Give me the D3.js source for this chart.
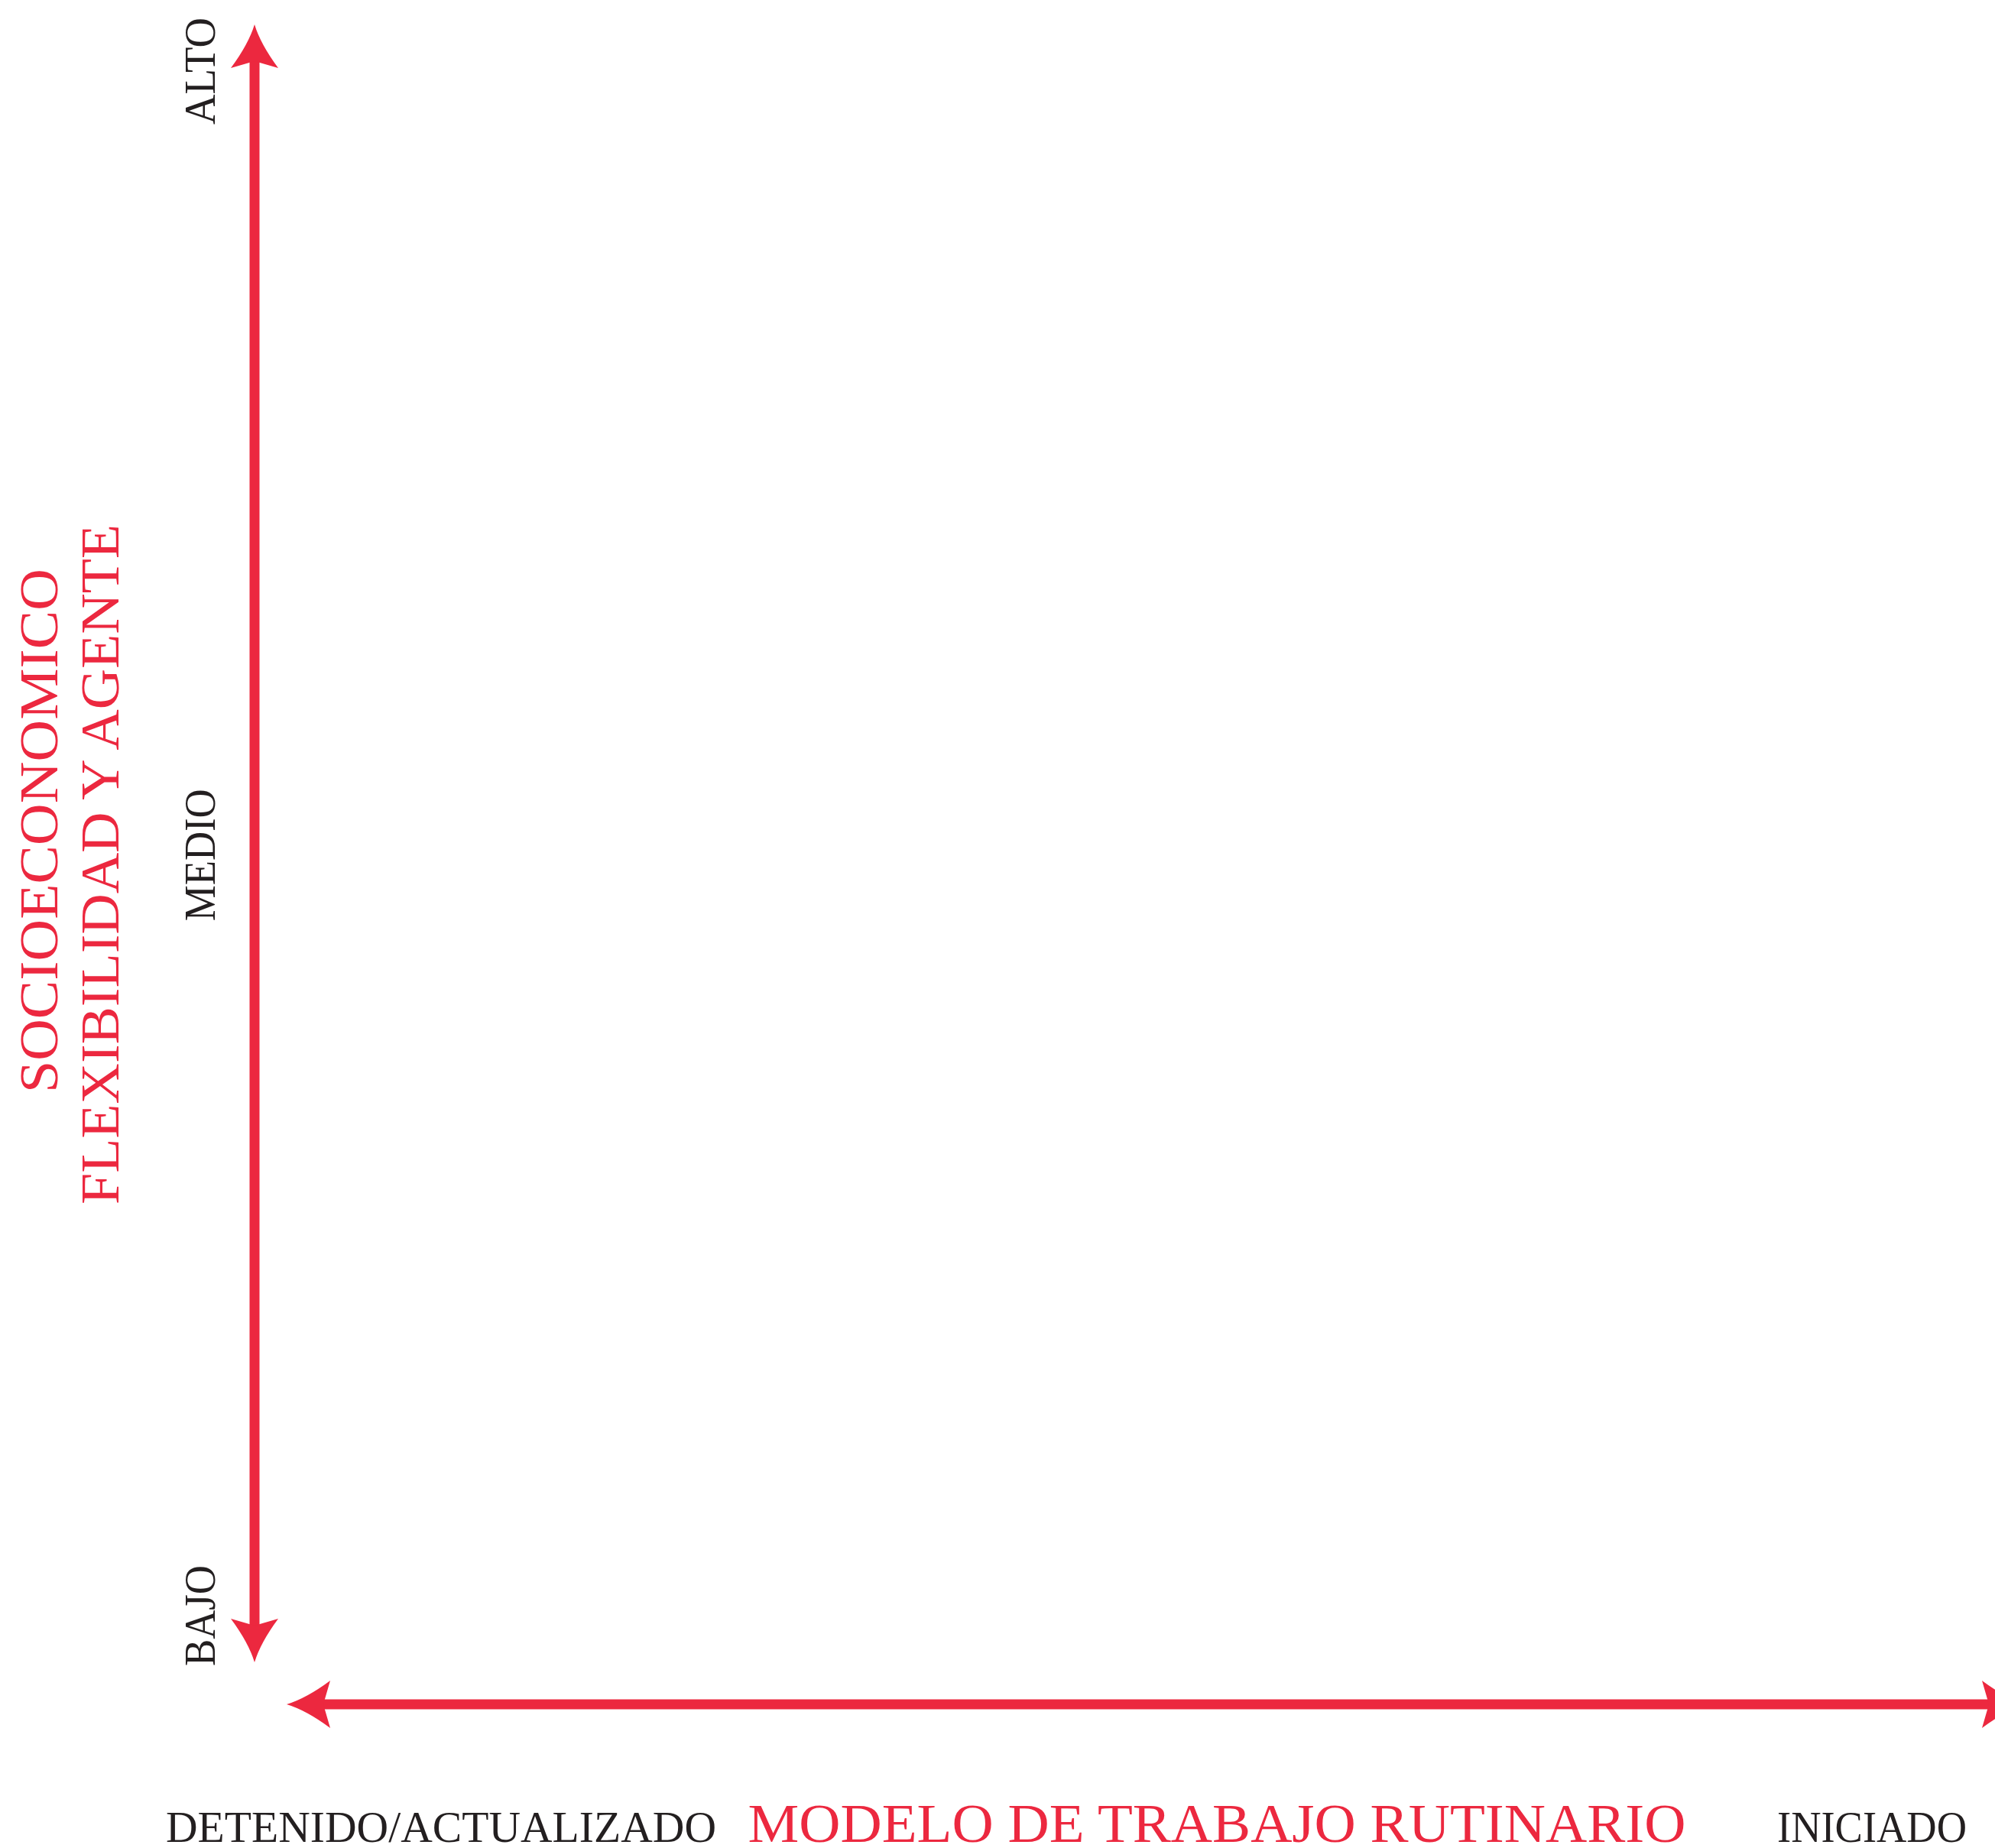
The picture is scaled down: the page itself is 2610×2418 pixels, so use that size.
<!DOCTYPE html>
<html>
<head>
<meta charset="utf-8">
<script src="https://cdn.jsdelivr.net/npm/d3@7"></script>
<style>
  body { margin: 0; background: #fff; }
  text { font-family: "Liberation Serif", "Times New Roman", serif; }
</style>
</head>
<body>
<script>
var width = 2610;
var height = 2418;
var red = "#ec283f";
var ink = "#231f20";

// axis levels and titles
var yLevels = ["BAJO", "MEDIO", "ALTO"];
var yLevelPos = [0, 0.492, 1];
var yAnchors = ["start", "middle", "end"];
var yLabelLengths = [132, 173, 140];
var xLevels = ["DETENIDO/ACTUALIZADO", "INICIADO"];
var xAnchors = ["start", "end"];
var xLabelLengths = [720, 248];
var yTitles = ["SOCIOECONOMICO", "FLEXIBILIDAD Y AGENTE"];
var yTitleLengths = [686, 890];
var xTitle = "MODELO DE TRABAJO RUTINARIO";
var xTitleLength = 1227;

var svg = d3.select("body").append("svg")
  .attr("width", width)
  .attr("height", height);

var axisX = 333;
var axisY = 2230;

var y = d3.scaleLinear().domain([0, 1]).range([2180, 23]);
var x = d3.scalePoint().domain(xLevels).range([217, 2573]);

// arrow head with bowed sides, tip at origin pointing right
function head(len, half, notch) {
  return "M0,0 Q" + (-len*0.45) + "," + (half*0.25) + " " + (-len) + "," + half +
    " L" + (-len+notch) + ",0 L" + (-len) + "," + (-half) +
    " Q" + (-len*0.45) + "," + (-half*0.25) + " 0,0 Z";
}

function arrow(x1, y1, x2, y2) {
  var g = svg.append("g");
  var ang = Math.atan2(y2 - y1, x2 - x1) * 180 / Math.PI;
  var d = Math.hypot(x2 - x1, y2 - y1);
  var ux = (x2 - x1) / d, uy = (y2 - y1) / d;
  g.append("line")
    .attr("x1", x1 + ux*40)
    .attr("y1", y1 + uy*40)
    .attr("x2", x2 - ux*40)
    .attr("y2", y2 - uy*40)
    .attr("stroke", red)
    .attr("stroke-width", 13);
  g.append("path")
    .attr("d", head(57, 31, 9))
    .attr("fill", red)
    .attr("transform", "translate(" + x2 + "," + y2 + ") rotate(" + ang + ")");
  g.append("path")
    .attr("d", head(57, 31, 9))
    .attr("fill", red)
    .attr("transform", "translate(" + x1 + "," + y1 + ") rotate(" + (ang + 180) + ")");
}

arrow(axisX, 2175, axisX, 32);
arrow(375, axisY, 2650, axisY);

// y level labels
svg.selectAll(".ylev")
  .data(yLevels)
  .enter().append("text")
  .attr("class", "ylev")
  .attr("transform", function(d, i){ return "translate(281," + y(yLevelPos[i]) + ") rotate(-90)"; })
  .attr("text-anchor", function(d, i){ return yAnchors[i]; })
  .attr("textLength", function(d, i){ return yLabelLengths[i]; })
  .attr("lengthAdjust", "spacingAndGlyphs")
  .attr("font-size", 56)
  .attr("fill", ink)
  .text(function(d){ return d; });

// y titles
var titleX = [75, 155];
svg.selectAll(".ytitle")
  .data(yTitles)
  .enter().append("text")
  .attr("class", "ytitle")
  .attr("transform", function(d, i){ return "translate(" + titleX[i] + "," + (i ? 1131 : 1087) + ") rotate(-90)"; })
  .attr("text-anchor", "middle")
  .attr("textLength", function(d, i){ return yTitleLengths[i]; })
  .attr("lengthAdjust", "spacingAndGlyphs")
  .attr("font-size", 72)
  .attr("fill", red)
  .text(function(d){ return d; });

// x level labels
svg.selectAll(".xlev")
  .data(xLevels)
  .enter().append("text")
  .attr("class", "xlev")
  .attr("x", function(d){ return x(d); })
  .attr("y", 2410)
  .attr("text-anchor", function(d, i){ return xAnchors[i]; })
  .attr("textLength", function(d, i){ return xLabelLengths[i]; })
  .attr("lengthAdjust", "spacingAndGlyphs")
  .attr("font-size", 56)
  .attr("fill", ink)
  .text(function(d){ return d; });

// x title
svg.append("text")
  .attr("x", 1592)
  .attr("y", 2410)
  .attr("text-anchor", "middle")
  .attr("textLength", xTitleLength)
  .attr("lengthAdjust", "spacingAndGlyphs")
  .attr("font-size", 72)
  .attr("fill", red)
  .text(xTitle);
</script>
</body>
</html>
